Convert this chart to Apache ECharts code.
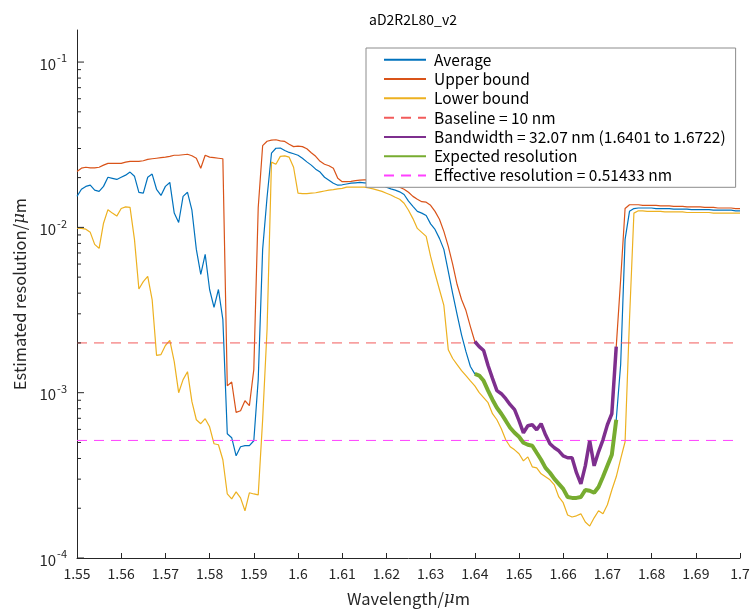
<!DOCTYPE html>
<html><head><meta charset="utf-8">
<script src="https://cdn.jsdelivr.net/npm/echarts@6/dist/echarts.min.js"></script>
<style>html,body{margin:0;padding:0;background:#fff}#c{width:753px;height:613px}</style>
</head><body><div id="c"></div><script>
// ---- data (values in micrometres) ----
const wavelength = [
 1.550,1.551,1.552,1.553,1.554,1.555,1.556,1.557,1.558,1.559,
 1.560,1.561,1.562,1.563,1.564,1.565,1.566,1.567,1.568,1.569,
 1.570,1.571,1.572,1.573,1.574,1.575,1.576,1.577,1.578,1.579,
 1.580,1.581,1.582,1.583,1.584,1.585,1.586,1.587,1.588,1.589,
 1.590,1.591,1.592,1.593,1.594,1.595,1.596,1.597,1.598,1.599,
 1.600,1.601,1.602,1.603,1.604,1.605,1.606,1.607,1.608,1.609,
 1.610,1.611,1.612,1.613,1.614,1.615,1.616,1.617,1.618,1.619,
 1.620,1.621,1.622,1.623,1.624,1.625,1.626,1.627,1.628,1.629,
 1.630,1.631,1.632,1.633,1.634,1.635,1.636,1.637,1.638,1.639,
 1.640,1.641,1.642,1.643,1.644,1.645,1.646,1.647,1.648,1.649,
 1.650,1.651,1.652,1.653,1.654,1.655,1.656,1.657,1.658,1.659,
 1.660,1.661,1.662,1.663,1.664,1.665,1.666,1.667,1.668,1.669,
 1.670,1.671,1.672,1.673,1.674,1.675,1.676,1.677,1.678,1.679,
 1.680,1.681,1.682,1.683,1.684,1.685,1.686,1.687,1.688,1.689,
 1.690,1.691,1.692,1.693,1.694,1.695,1.696,1.697,1.698,1.699,1.700
];
const average = [
 0.0154,0.0170,0.0177,0.0180,0.0168,0.0165,0.0177,0.0201,0.0198,0.0195,
 0.0201,0.0207,0.0216,0.0204,0.0163,0.0161,0.0201,0.0210,0.0170,0.0156,
 0.0177,0.0187,0.0122,0.0107,0.0154,0.0163,0.0127,0.00736,0.00519,0.00686,
 0.00421,0.00328,0.00421,0.00277,0.000564,0.000534,0.000415,0.000471,0.000478,0.000478,
 0.000512,0.00120,0.00736,0.0152,0.0281,0.0301,0.0302,0.0292,0.0284,0.0279,
 0.0273,0.0262,0.0249,0.0238,0.0225,0.0216,0.0201,0.0193,0.0185,0.0180,
 0.0181,0.0183,0.0185,0.0186,0.0187,0.0186,0.0185,0.0185,0.0182,0.0180,
 0.0175,0.0171,0.0168,0.0164,0.0158,0.0144,0.0134,0.0125,0.0122,0.0118,
 0.0105,0.00972,0.00858,0.00736,0.00541,0.00398,0.00297,0.00224,0.00177,0.00144,
 0.00130,0.00127,0.00118,0.00103,0.000907,0.000811,0.000746,0.000677,0.000614,0.000572,
 0.000541,0.000498,0.000484,0.000478,0.000433,0.000393,0.000351,0.000328,0.000301,0.000281,
 0.000262,0.000234,0.000231,0.000231,0.000234,0.000258,0.000255,0.000248,0.000269,0.000310,
 0.000361,0.000421,0.000686,0.00148,0.00846,0.0125,0.0130,0.0131,0.0131,0.0131,
 0.0131,0.0130,0.0130,0.0130,0.0130,0.0129,0.0129,0.0129,0.0129,0.0128,
 0.0128,0.0128,0.0128,0.0128,0.0127,0.0127,0.0127,0.0127,0.0127,0.0126,0.0126
];
const upperBound = [
 0.0218,0.0228,0.0231,0.0229,0.0229,0.0231,0.0238,0.0244,0.0244,0.0244,
 0.0244,0.0248,0.0251,0.0251,0.0251,0.0253,0.0258,0.0260,0.0262,0.0264,
 0.0266,0.0269,0.0273,0.0273,0.0275,0.0277,0.0271,0.0262,0.0228,0.0273,
 0.0266,0.0264,0.0262,0.0260,0.00110,0.00116,0.000760,0.000778,0.000894,0.000834,
 0.00138,0.0132,0.0312,0.0332,0.0337,0.0339,0.0334,0.0331,0.0318,0.0308,
 0.0310,0.0308,0.0299,0.0283,0.0269,0.0251,0.0241,0.0236,0.0228,0.0198,
 0.0189,0.0189,0.0190,0.0192,0.0193,0.0194,0.0194,0.0193,0.0192,0.0189,
 0.0185,0.0182,0.0179,0.0175,0.0170,0.0163,0.0154,0.0148,0.0143,0.0142,
 0.0136,0.0125,0.0112,0.00946,0.00767,0.00597,0.00451,0.00366,0.00314,0.00251,
 0.00204,0.00190,0.00180,0.00146,0.00122,0.00103,0.000986,0.000920,0.000846,0.000789,
 0.000677,0.000572,0.000631,0.000640,0.000597,0.000649,0.000556,0.000491,0.000464,0.000445,
 0.000415,0.000404,0.000404,0.000328,0.000281,0.000361,0.000512,0.000361,0.000439,0.000519,
 0.000640,0.000746,0.00190,0.00484,0.0130,0.0137,0.0137,0.0137,0.0136,0.0136,
 0.0136,0.0136,0.0135,0.0135,0.0135,0.0134,0.0134,0.0134,0.0133,0.0133,
 0.0133,0.0133,0.0132,0.0132,0.0132,0.0131,0.0131,0.0131,0.0131,0.0130,0.0130
];
const lowerBound = [
 0.0099,0.00986,0.00975,0.00933,0.00789,0.00746,0.0106,0.0128,0.0122,0.0117,
 0.0130,0.0133,0.0132,0.00846,0.00424,0.00470,0.00505,0.00366,0.00168,0.00170,
 0.00193,0.00207,0.00154,0.00100,0.00120,0.00134,0.000882,0.000686,0.000649,0.000696,
 0.000622,0.000491,0.000484,0.000393,0.000244,0.000228,0.000251,0.000231,0.000193,0.000248,
 0.000244,0.000241,0.000686,0.00241,0.0248,0.0241,0.0269,0.0271,0.0266,0.0231,
 0.0161,0.0160,0.0160,0.0161,0.0162,0.0164,0.0166,0.0168,0.0169,0.0171,
 0.0172,0.0175,0.0175,0.0175,0.0175,0.0175,0.0173,0.0171,0.0168,0.0165,
 0.0161,0.0157,0.0152,0.0148,0.0140,0.0127,0.0113,0.00986,0.00933,0.00882,
 0.00667,0.00526,0.00421,0.00337,0.00182,0.00161,0.00148,0.00136,0.00127,0.00118,
 0.00110,0.00100,0.000933,0.000870,0.000746,0.000686,0.000605,0.000519,0.000471,0.000451,
 0.000427,0.000387,0.000409,0.000356,0.000351,0.000323,0.000310,0.000297,0.000277,0.000234,
 0.000216,0.000182,0.000177,0.000180,0.000185,0.000165,0.000156,0.000175,0.000193,0.000185,
 0.000210,0.000258,0.000310,0.000398,0.000505,0.00277,0.0122,0.0126,0.0126,0.0125,
 0.0125,0.0125,0.0125,0.0124,0.0124,0.0124,0.0124,0.0124,0.0123,0.0123,
 0.0123,0.0123,0.0123,0.0123,0.0122,0.0122,0.0122,0.0122,0.0122,0.0122,0.0122
];
const baselineRes = 0.002;        // "Baseline = 10 nm" level
const effectiveRes = 0.00051433;  // 0.51433 nm
const bandRange = [1.6401, 1.6722];
const xRange = [1.55, 1.70];
const yRange = [1e-4, 0.1563];
const yMajorTicks = [1e-4, 1e-3, 1e-2, 1e-1];
const yMinorTicks = [2e-4,3e-4,4e-4,5e-4,6e-4,7e-4,8e-4,9e-4,
                     2e-3,3e-3,4e-3,5e-3,6e-3,7e-3,8e-3,9e-3,
                     2e-2,3e-2,4e-2,5e-2,6e-2,7e-2,8e-2,9e-2];
const legendNames = ['Average','Upper bound','Lower bound','Baseline = 10 nm',
  'Bandwidth = 32.07 nm (1.6401 to 1.6722)','Expected resolution','Effective resolution = 0.51433 nm'];

// ---- build ----
const FONT = "'Noto Sans CJK JP','Noto Sans',sans-serif";
const AX = '#262626';
const pairs = arr => wavelength.map((w, i) => [w, arr[i]]);
const inBand = w => w >= bandRange[0] - 0.0005 && w <= bandRange[1] + 0.0001;
const bandPairs = arr => wavelength.map((w, i) => [w, arr[i]]).filter(p => inBand(p[0]));

const chart = echarts.init(document.getElementById('c'), null, {renderer: 'canvas'});
const muRich = {mu: {fontStyle: 'italic', fontFamily: 'DejaVu Serif', fontSize: 16.5, color: AX}};
const tickData = yMajorTicks.map(v => [xRange[0], v, 7]).concat(yMinorTicks.map(v => [xRange[0], v, 4]));

chart.setOption({
  animation: false,
  backgroundColor: '#fff',
  title: {text: 'aD2R2L80_v2', left: 408, top: 8, textAlign: 'center',
    textStyle: {fontFamily: FONT, fontSize: 14, fontWeight: 'normal', color: '#000'}},
  grid: {left: 77, right: 13, top: 30, bottom: 55},
  legend: {
    data: legendNames, orient: 'vertical', left: 366, top: 48,
    itemWidth: 42, itemHeight: 15.5, itemGap: 3.8,
    padding: [4, 10, 4, 17], borderColor: '#8c8c8c', borderWidth: 1, backgroundColor: '#fff',
    itemStyle: {opacity: 0},
    textStyle: {fontFamily: FONT, fontSize: 15.5, color: '#000', padding: [0, 0, 0, 3]},
    selectedMode: false
  },
  xAxis: {
    type: 'value', min: xRange[0], max: xRange[1], interval: 0.01,
    axisLine: {show: true, lineStyle: {color: AX, width: 1}},
    axisTick: {show: true, inside: true, length: 5, lineStyle: {color: AX}},
    axisLabel: {color: AX, fontFamily: FONT, fontSize: 14, margin: 9,
      formatter: v => String(+v.toFixed(2))},
    splitLine: {show: false},
    name: 'Wavelength/{mu|μ}m', nameLocation: 'middle', nameGap: 32,
    nameTextStyle: {fontFamily: FONT, fontSize: 16.5, color: AX, rich: muRich}
  },
  yAxis: {
    type: 'log', logBase: 10, min: yRange[0], max: yRange[1],
    axisLine: {show: true, lineStyle: {color: AX, width: 1}},
    axisTick: {show: false},
    splitLine: {show: false},
    axisLabel: {color: AX, fontFamily: FONT, margin: 10, showMaxLabel: false,
      formatter: v => {
        const e = Math.log10(v);
        if (Math.abs(e - Math.round(e)) > 1e-6) return '';
        return '{b|10}{s|' + Math.round(e) + '}';
      },
      rich: {b: {fontFamily: FONT, fontSize: 15, color: AX, verticalAlign: 'bottom'},
             s: {fontFamily: FONT, fontSize: 11, color: AX, verticalAlign: 'bottom', padding: [0, 0, 8, 1]}}
    },
    name: 'Estimated resolution/{mu|μ}m', nameLocation: 'middle', nameGap: 47,
    nameTextStyle: {fontFamily: FONT, fontSize: 16.5, color: AX, rich: muRich}
  },
  series: [
    {name: 'Average', type: 'line', data: pairs(average), symbol: 'none',
      lineStyle: {color: '#0072BD', width: 1.2}, itemStyle: {color: '#0072BD'}, z: 3},
    {name: 'Upper bound', type: 'line', data: pairs(upperBound), symbol: 'none',
      lineStyle: {color: '#D95319', width: 1.2}, itemStyle: {color: '#D95319'}, z: 3},
    {name: 'Lower bound', type: 'line', data: pairs(lowerBound), symbol: 'none',
      lineStyle: {color: '#EDB120', width: 1.2}, itemStyle: {color: '#EDB120'}, z: 3},
    {name: 'Baseline = 10 nm', type: 'line', data: [[xRange[0], baselineRes], [xRange[1], baselineRes]],
      symbol: 'none', lineStyle: {color: '#F25B5B', width: 1, type: [10, 7]}, itemStyle: {color: '#F25B5B'}, z: 3},
    {name: 'Bandwidth = 32.07 nm (1.6401 to 1.6722)', type: 'line', data: bandPairs(upperBound), symbol: 'none',
      lineStyle: {color: '#7E2F8E', width: 3.5}, itemStyle: {color: '#7E2F8E'}, z: 4},
    {name: 'Expected resolution', type: 'line', data: bandPairs(average), symbol: 'none',
      lineStyle: {color: '#77AC30', width: 4}, itemStyle: {color: '#77AC30'}, z: 4},
    {name: 'Effective resolution = 0.51433 nm', type: 'line', data: [[xRange[0], effectiveRes], [xRange[1], effectiveRes]],
      symbol: 'none', lineStyle: {color: '#FF40FF', width: 1, type: [10, 7]}, itemStyle: {color: '#FF40FF'}, z: 3},
    {name: 'yticks', type: 'custom', data: tickData, silent: true, clip: false, z: 5,
      renderItem: (params, api) => {
        const p = api.coord([api.value(0), api.value(1)]);
        return {type: 'line', shape: {x1: p[0], y1: p[1], x2: p[0] + api.value(2), y2: p[1]},
          style: {stroke: AX, lineWidth: 1}};
      }}
  ]
});
</script></body></html>
